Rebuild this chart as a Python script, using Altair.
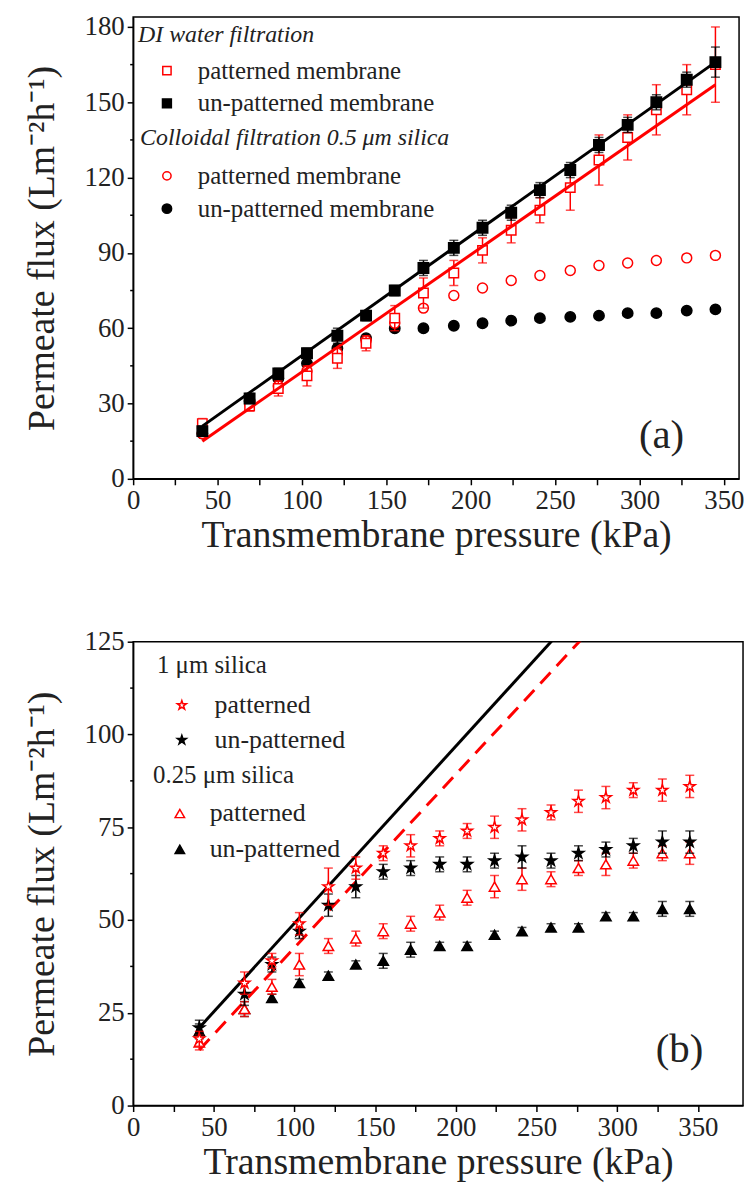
import altair as alt
import pandas as pd

FONT = "Liberation Serif"
RED = "#ff0000"
BLK = "#000000"
STAR = "M0,-1L0.224,-0.309L0.951,-0.309L0.363,0.118L0.588,0.809L0,0.382L-0.588,0.809L-0.363,0.118L-0.951,-0.309L-0.224,-0.309Z"

pressure = [41, 69, 86, 103, 121, 138, 155, 172, 190, 207, 224, 241, 259, 276, 293, 310, 328, 345]

# ---- panel (a) ----
di_pat = [22, 29, 36, 41, 48, 54, 64, 74, 82, 91, 99, 107, 116, 127, 136, 147, 155, 165]
di_pat_err = [2, 2, 3, 4, 4, 3, 5, 6, 5, 5, 5, 5, 9, 10, 9, 10, 10, 15]
di_unp = [19, 32, 42, 50, 57, 65, 75, 84, 92, 100, 106, 115, 123, 133, 141, 150, 159, 166]
di_unp_err = [2, 2, 2, 2, 3, 2, 2, 3, 3, 3, 3, 3, 3, 3, 3, 3, 3, 6]
col_pat = [18, 30, 37, 43, 50, 55, 62, 68, 73, 76, 79, 81, 83, 85, 86, 87, 88, 89]
col_unp = [18, 31, 40, 46, 52, 56, 60, 60, 61, 62, 63, 64, 64.5, 65, 66, 66, 67, 67.5]

fit_x = [41, 345]
fit_black = [21, 166]
fit_red = [15, 157]

# ---- panel (b) ----
s1_pat = [18, 33, 39, 49, 59, 64, 68, 70, 72, 74, 75, 77, 79, 82, 83, 85, 85, 86]
s1_pat_err = [2, 3, 2, 3, 5, 3, 2, 3, 2, 2, 3, 3, 2, 3, 3, 2, 3, 3]
s1_unp = [21, 30, 38, 47, 54, 59, 63, 64, 65, 65, 66, 67, 66, 68, 69, 70, 71, 71]
s1_unp_err = [2, 3, 2, 2, 3, 3, 2, 2, 2, 2, 2, 3, 2, 2, 2, 2, 3, 3]
s025_pat = [17, 26, 32, 38, 43, 45, 47, 49, 52, 56, 59, 61, 61, 64, 65, 66, 68, 68]
s025_pat_err = [2, 2, 2, 3, 2, 2, 2, 2, 2, 2, 3, 3, 2, 2, 3, 2, 2, 3]
s025_unp = [20, 26, 29, 33, 35, 38, 39, 42, 43, 43, 46, 47, 48, 48, 51, 51, 53, 53]
s025_unp_err = [2, 2, 1, 1, 1, 1, 2, 2, 1, 1, 1, 1, 1, 1, 1, 1, 2, 2]

xticks = [0, 25, 50, 75, 100, 125, 150, 175, 200, 225, 250, 275, 300, 325, 350]
ya_major = [0, 30, 60, 90, 120, 150, 180]
ya_minor = [15, 45, 75, 105, 135, 165]
yb_major = [0, 25, 50, 75, 100, 125]
yb_minor = [12.5, 37.5, 62.5, 87.5, 112.5]

XTITLE = "Transmembrane pressure (kPa)"
YTITLE = "Permeate flux (Lm\u207b\u00b2h\u207b\u00b9)"


def frame(vals, errs=None):
    d = pd.DataFrame({"p": pressure, "v": vals})
    if errs is not None:
        d["lo"] = [v - e for v, e in zip(vals, errs)]
        d["hi"] = [v + e for v, e in zip(vals, errs)]
    return d


def scales(xmax, ymax):
    xs = alt.Scale(domain=[0, xmax], nice=False, zero=False)
    ys = alt.Scale(domain=[0, ymax], nice=False, zero=False)
    return xs, ys


def axes(ymajor):
    xa = alt.Axis(values=xticks, labelExpr="datum.value % 50 == 0 ? datum.label : ''",
                  title=XTITLE, tickSize=6, labelPadding=3, titlePadding=3, format="d")
    ya = alt.Axis(values=ymajor, title=YTITLE, tickSize=6, labelPadding=3, titlePadding=23,
                  format="d")
    return xa, ya


def errbars(d, color, xs, ys):
    base = alt.Chart(d)
    r = base.mark_rule(color=color, strokeWidth=1.5).encode(
        x=alt.X("p:Q", scale=xs), y=alt.Y("lo:Q", scale=ys), y2="hi:Q")
    t1 = base.mark_tick(color=color, orient="horizontal", size=9, thickness=1.5).encode(
        x=alt.X("p:Q", scale=xs), y=alt.Y("lo:Q", scale=ys))
    t2 = base.mark_tick(color=color, orient="horizontal", size=9, thickness=1.5).encode(
        x=alt.X("p:Q", scale=xs), y=alt.Y("hi:Q", scale=ys))
    return [r, t1, t2]


def points(d, shape, color, filled, size, xs, ys):
    return alt.Chart(d).mark_point(
        shape=shape, size=size, filled=True,
        fill=color if filled else "white", stroke=color, strokeWidth=1.5, opacity=1
    ).encode(x=alt.X("p:Q", scale=xs), y=alt.Y("v:Q", scale=ys))


def fitline(yvals, color, xs, ys, dash=None):
    d = pd.DataFrame({"p": fit_x, "v": yvals})
    kw = dict(color=color, strokeWidth=3, clip=True)
    if dash:
        kw["strokeDash"] = dash
    return alt.Chart(d).mark_line(**kw).encode(
        x=alt.X("p:Q", scale=xs), y=alt.Y("v:Q", scale=ys))


def minor_ticks(vals, ys):
    return alt.Chart(pd.DataFrame({"m": vals})).mark_rule(
        color=BLK, strokeWidth=1.5, clip=False).encode(
        x=alt.value(-3), x2=alt.value(0), y=alt.Y("m:Q", scale=ys))


ONE = pd.DataFrame({"k": [0]})


def label(text, x, y, size=22, style="normal", align="left"):
    return alt.Chart(ONE).mark_text(
        text=text, font=FONT, fontSize=size, fontStyle=style, align=align,
        baseline="middle", color="#222222").encode(x=alt.value(x), y=alt.value(y))


def sym(shape, color, filled, size, x, y):
    return alt.Chart(ONE).mark_point(
        shape=shape, size=size, filled=True, fill=color if filled else "white",
        stroke=color, strokeWidth=1.5, opacity=1).encode(x=alt.value(x), y=alt.value(y))


# ---------------- panel (a) ----------------
xsa, ysa = scales(359, 184)
xaa, yaa = axes(ya_major)

dpa = frame(di_pat, di_pat_err)
dua = frame(di_unp, di_unp_err)
cpa = frame(col_pat)
cua = frame(col_unp)

axis_a = alt.Chart(dua).mark_point(opacity=0).encode(
    x=alt.X("p:Q", scale=xsa, axis=xaa), y=alt.Y("v:Q", scale=ysa, axis=yaa))

layers_a = [axis_a, minor_ticks(ya_minor, ysa)]
layers_a += [points(cua, "circle", BLK, True, 110, xsa, ysa),
             points(cpa, "circle", RED, False, 100, xsa, ysa)]
layers_a += errbars(dpa, RED, xsa, ysa)
layers_a += [points(dpa, "square", RED, False, 90, xsa, ysa)]
layers_a += [fitline(fit_red, RED, xsa, ysa)]
layers_a += errbars(dua, BLK, xsa, ysa)
layers_a += [points(dua, "square", BLK, True, 110, xsa, ysa)]
layers_a += [fitline(fit_black, BLK, xsa, ysa)]
layers_a += [
    label("DI water filtration", 5, 18, 24, "italic"),
    sym("square", RED, False, 70, 34, 54), label("patterned membrane", 65, 54, 25),
    sym("square", BLK, True, 80, 34, 87), label("un-patterned membrane", 65, 87, 25),
    label("Colloidal filtration 0.5 \u03bcm silica", 7, 122, 24, "italic"),
    sym("circle", RED, False, 70, 34, 160), label("patterned membrane", 65, 160, 25),
    sym("circle", BLK, True, 90, 34, 193), label("un-patterned membrane", 65, 193, 25),
    label("(a)", 532, 422, 41, align="center"),
]
panel_a = alt.layer(*layers_a).properties(width=610, height=465)

# ---------------- panel (b) ----------------
xsb, ysb = scales(378, 125)
xab, yab = axes(yb_major)

d1p = frame(s1_pat, s1_pat_err)
d1u = frame(s1_unp, s1_unp_err)
d2p = frame(s025_pat, s025_pat_err)
d2u = frame(s025_unp, s025_unp_err)

axis_b = alt.Chart(d1u).mark_point(opacity=0).encode(
    x=alt.X("p:Q", scale=xsb, axis=xab), y=alt.Y("v:Q", scale=ysb, axis=yab))

layers_b = [axis_b, minor_ticks(yb_minor, ysb)]
layers_b += [fitline(fit_black, BLK, xsb, ysb), fitline(fit_red, RED, xsb, ysb, [15, 9])]
layers_b += errbars(d2u, BLK, xsb, ysb) + [points(d2u, "triangle-up", BLK, True, 110, xsb, ysb)]
layers_b += errbars(d2p, RED, xsb, ysb) + [points(d2p, "triangle-up", RED, False, 110, xsb, ysb)]
layers_b += errbars(d1u, BLK, xsb, ysb) + [points(d1u, STAR, BLK, True, 130, xsb, ysb)]
layers_b += errbars(d1p, RED, xsb, ysb) + [points(d1p, STAR, RED, False, 130, xsb, ysb)]
layers_b += [
    label("1 \u03bcm silica", 24, 24, 25),
    sym(STAR, RED, False, 90, 49, 64), label("patterned", 82, 64, 26),
    sym(STAR, BLK, True, 90, 49, 99), label("un-patterned", 82, 99, 26),
    label("0.25 \u03bcm silica", 20, 134, 25),
    sym("triangle-up", RED, False, 90, 47, 173), label("patterned", 77, 173, 26),
    sym("triangle-up", BLK, True, 90, 47, 209), label("un-patterned", 77, 209, 26),
    label("(b)", 550, 411, 41, align="center"),
]
panel_b = alt.layer(*layers_b).properties(width=614, height=467)

chart = alt.vconcat(panel_a, panel_b, spacing=72).properties(
    padding={"left": 14, "top": 0, "right": 2, "bottom": 2}
).configure_axis(
    labelFont=FONT, titleFont=FONT, labelFontSize=27, titleFontSize=38,
    labelColor="#222222", titleColor="#222222", titleFontWeight="normal",
    tickColor=BLK, domainColor=BLK, tickWidth=1.5, domainWidth=1.5, grid=False,
    labelFlush=False, labelOverlap=False,
).configure_view(stroke=BLK, strokeWidth=1.5)

chart.save("out.html", embed_options={"renderer": "svg", "actions": False})
